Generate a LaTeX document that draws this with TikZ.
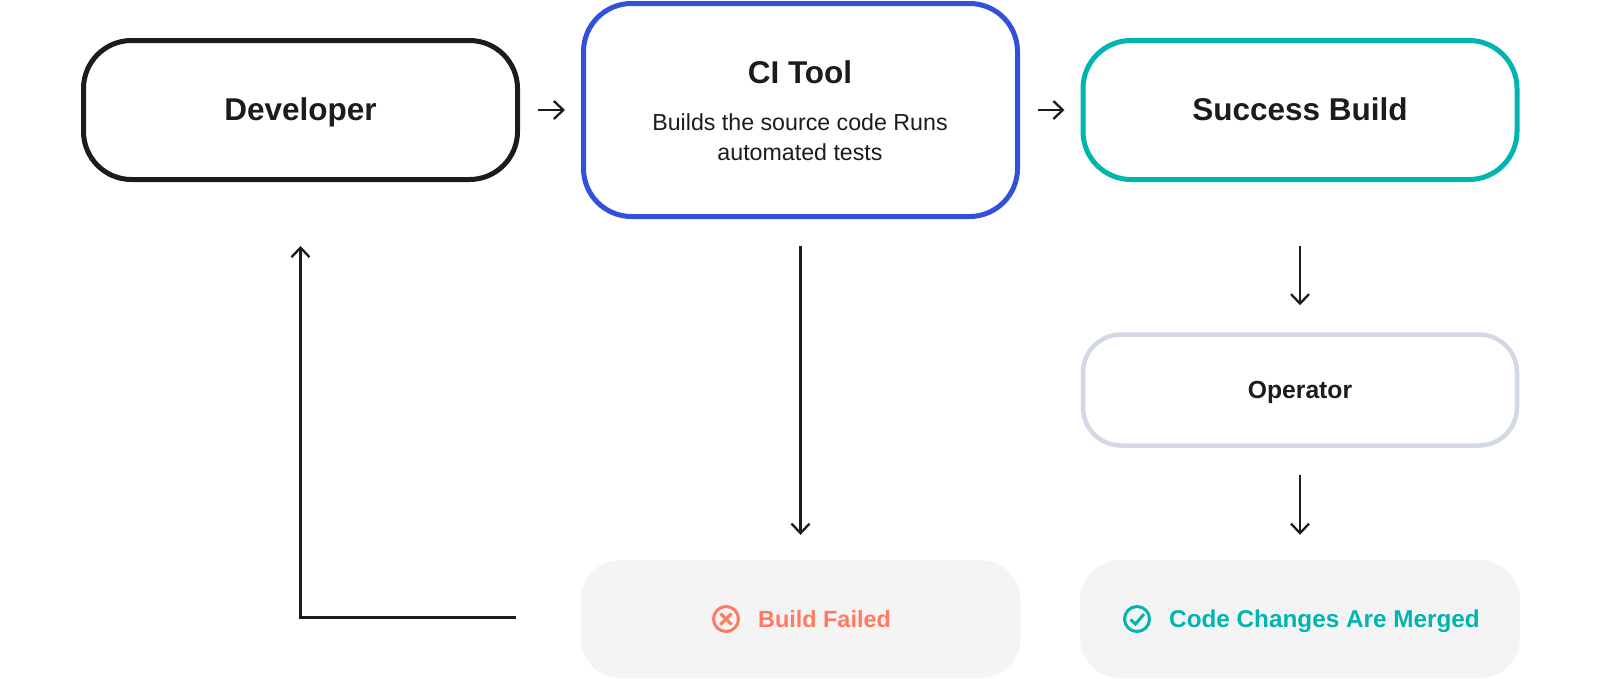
\documentclass[tikz,border=0pt]{standalone}
\usepackage{fontspec}
\setmainfont{Liberation Sans}
\usetikzlibrary{arrows.meta}
\definecolor{ink}{HTML}{1C1C1C}
\definecolor{blueb}{HTML}{3350DC}
\definecolor{tealb}{HTML}{00B5B0}
\definecolor{greyb}{HTML}{D3D9E4}
\definecolor{soft}{HTML}{F4F4F4}
\definecolor{coral}{HTML}{FF7A62}
\tikzset{
  x=1pt,y=-1pt,
  box/.style={draw,rounded corners=#1,line width=5pt,fill=white,inner sep=0pt,align=center,text=ink},
  softbox/.style={fill=soft,rounded corners=40pt,inner sep=0pt,minimum width=440pt,minimum height=118pt},
  link/.style={draw=ink,line width=2.3pt,-{Straight Barb[length=9.5pt,width=18pt,line width=2.3pt]}},
  title/.style={font=\fontsize{31.5}{35}\selectfont\bfseries,text height=20.5pt,text depth=0pt},
  statuslabel/.style={font=\fontsize{#1}{27}\selectfont\bfseries,inner sep=0pt,anchor=west,text height=17pt,text depth=0pt},
  icon/.style={circle,draw,line width=3pt,minimum size=25pt,inner sep=0pt},
}
\begin{document}
\begin{tikzpicture}
\useasboundingbox (0,0) rectangle (1600,678);
\node[box=48pt,draw=ink,minimum width=434pt,minimum height=139pt,title] (dev) at (300.5,110) {Developer};
\node[box=48pt,draw=blueb,minimum width=434pt,minimum height=213pt] (ci) at (800.5,110) {};
\node[title,text=ink,inner sep=0pt] (citext) at (800,73) {CI Tool};
\node[font=\fontsize{23.2}{30}\selectfont,text=ink,align=center,inner sep=0pt] (cisub) at (800,137.5) {Builds the source code Runs\\automated tests};
\node[box=48pt,draw=tealb,minimum width=434pt,minimum height=139pt,title] (ok) at (1300,110) {Success Build};
\node[box=38pt,draw=greyb,line width=4.5pt,minimum width=434pt,minimum height=111pt,font=\fontsize{24.7}{28}\selectfont\bfseries,text height=17.5pt,text depth=0pt] (op) at (1300,390) {Operator};
\node[softbox] (fail) at (800.5,619) {};
\node[softbox] (merged) at (1300,619) {};
\node[icon,draw=coral] (xicon) at (726,619) {};
\draw[coral,line width=3pt] ([shift={(-5.5,-5.5)}]xicon.center) -- ([shift={(5.5,5.5)}]xicon.center) ([shift={(-5.5,5.5)}]xicon.center) -- ([shift={(5.5,-5.5)}]xicon.center);
\node[statuslabel=23.4,text=coral] (failtext) at (758,619) {Build Failed};
\node[icon,draw=tealb] (cicon) at (1137,619) {};
\draw[tealb,line width=3pt] ([shift={(-6.5,0.5)}]cicon.center) -- ([shift={(-1.5,5)}]cicon.center) -- ([shift={(7,-5)}]cicon.center);
\node[statuslabel=24.3,text=tealb] (mergedtext) at (1169,619) {Code Changes Are Merged};
\draw[link,shorten <=18pt,shorten >=16pt] (dev.east) -- (ci.west);
\draw[link,shorten <=18pt,shorten >=16pt] (ci.east) -- (ok.west);
\draw[link,shorten <=64pt,shorten >=27pt] (ok.south) -- (op.north);
\draw[link,shorten <=27pt,shorten >=25pt] (op.south) -- (merged.north);
\draw[link,shorten <=27pt,shorten >=25pt] (ci.south) -- (fail.north);
\coordinate (bend) at (dev.south |- 0,617.5);
\coordinate (failout) at (516,617.5);
\draw[link,shorten >=64pt] (failout) -- (bend) -- (dev.south);
\end{tikzpicture}
\end{document}
